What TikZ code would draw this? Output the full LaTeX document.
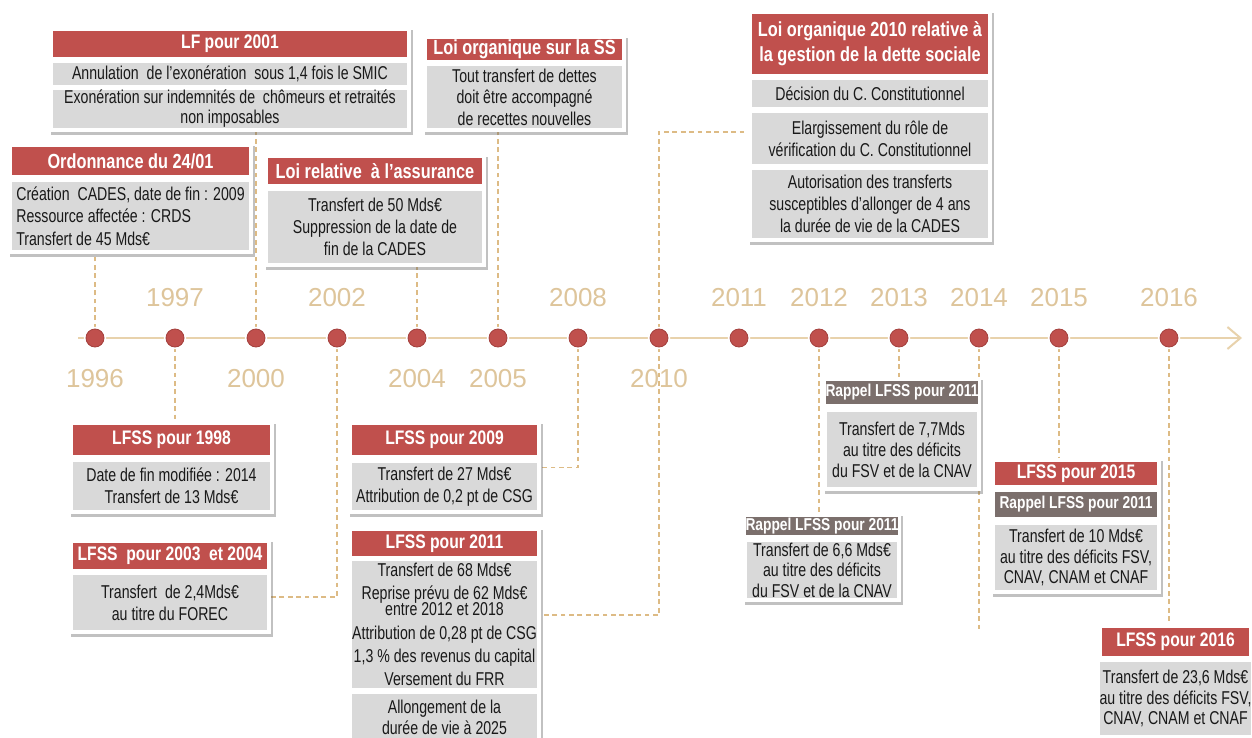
\documentclass[tikz,border=0pt]{standalone}
\usepackage{fontspec}
\setmainfont{Liberation Sans}
\newfontfamily\nar[FakeStretch=0.8]{Liberation Sans}
\newfontfamily\narr[FakeStretch=0.76]{Liberation Sans}
\usetikzlibrary{shadows,arrows.meta}
\definecolor{hred}{HTML}{C0504D}
\definecolor{rgray}{HTML}{7B6F6C}
\definecolor{rowgray}{HTML}{D9D9D9}
\definecolor{axisc}{HTML}{E8D2AC}
\definecolor{dashc}{HTML}{DDBB85}
\definecolor{yearc}{HTML}{DEC59B}
\definecolor{dotedge}{HTML}{A33F3C}
\pgfdeclarelayer{bgl}
\pgfsetlayers{bgl,main}
\begin{document}
\begin{tikzpicture}[x=0.5pt,y=-0.5pt,
 bx/.style args={#1/#2/#3/#4}{rectangle, inner sep=0pt, at={({(#1+#3)/2},{(#2+#4)/2})}, minimum width={(#3-#1)*0.5pt}, minimum height={(#4-#2)*0.5pt}},
 card/.style={fill=white, drop shadow={shadow xshift=1.2pt, shadow yshift=-1.6pt, opacity=0.4, fill=black!60}},
 hdr/.style={fill=hred, text=white, font=\nar\bfseries\fontsize{9.8}{12}\selectfont, align=center},
 rhdr/.style={fill=rgray, text=white, font=\nar\bfseries\fontsize{8.6}{10}\selectfont},
 row/.style={fill=rowgray, text=black!90, font=\narr\fontsize{9.3}{11}\selectfont, align=center},
 dot/.style={circle, fill=hred, draw=dotedge, line width=0.4pt, minimum size=9pt, inner sep=0pt, preaction={draw=white, line width=2.2pt}},
 yr/.style={text=yearc, font=\fontsize{13}{13}\selectfont, inner sep=0pt},
 conn/.style={draw=dashc, line width=0.8pt, dash pattern=on 2.4pt off 1.8pt},
]
\useasboundingbox (0,0) rectangle (1252,738);
\begin{pgfonlayer}{bgl}
\fill[white] (0,0) rectangle (1252,738);
\end{pgfonlayer}

% ---------- top boxes ----------
\node[card, bx=49/27/411/132] (c1) {};
\node[hdr, bx=53/31/407/57] (h1) {LF pour 2001};
\node[row, bx=53/63/407/85] (g1a) {Annulation\ \ de l’exonération\ \ sous 1,4 fois le SMIC};
\node[row, bx=53/90/407/128, font=\narr\fontsize{9.3}{10}\selectfont] (g1b) {Exonération sur indemnités de\ \ chômeurs et retraités\\non imposables};

\node[card, bx=8/143/253/254] (c2) {};
\node[hdr, bx=12/147/249/175, font=\nar\bfseries\fontsize{10.2}{12}\selectfont] (h2) {Ordonnance du 24/01};
\node[row, bx=12/182/249/250, align=left, font=\narr\fontsize{9.3}{11.2}\selectfont] (g2) {Création\ \ CADES, date de fin : 2009\\Ressource affectée : CRDS\\Transfert de 45 Mds€};

\node[card, bx=264/154/486/267] (c3) {};
\node[hdr, bx=268/158/482/184, font=\nar\bfseries\fontsize{10.2}{12}\selectfont] (h3) {Loi relative\ \ à l’assurance};
\node[row, bx=268/191/482/263] (g3) {Transfert de 50 Mds€\\Suppression de la date de\\fin de la CADES};

\node[card, bx=423/35/626/132] (c4) {};
\node[hdr, bx=427/39/622/60, font=\nar\bfseries\fontsize{10.2}{12}\selectfont] (h4) {Loi organique sur la SS};
\node[row, bx=427/66/622/128, font=\narr\fontsize{9.3}{10.8}\selectfont] (g4) {Tout transfert de dettes\\doit être accompagné\\de recettes nouvelles};

\node[card, bx=748/10/992/242] (c5) {};
\node[hdr, bx=752/14/988/74, font=\nar\bfseries\fontsize{10.2}{12.5}\selectfont] (h5) {Loi organique 2010 relative à\\la gestion de la dette sociale};
\node[row, bx=752/80/988/107] (g5a) {Décision du C. Constitutionnel};
\node[row, bx=752/113/988/164] (g5b) {Elargissement du rôle de\\vérification du C. Constitutionnel};
\node[row, bx=752/170/988/238] (g5c) {Autorisation des transferts\\susceptibles d’allonger de 4 ans\\la durée de vie de la CADES};

% ---------- bottom boxes ----------
\node[card, bx=69/421/274/514] (c6) {};
\node[hdr, bx=73/425/270/455] (h6) {LFSS pour 1998};
\node[row, bx=73/462/270/510] (g6) {Date de fin modifiée : 2014\\Transfert de 13 Mds€};

\node[card, bx=69/539/271/634] (c7) {};
\node[hdr, bx=73/543/267/569] (h7) {LFSS\ \ pour 2003\ \ et 2004};
\node[row, bx=73/575/267/630] (g7) {Transfert\ \ de 2,4Mds€\\au titre du FOREC};

\node[card, bx=348/421/541/514] (c8) {};
\node[hdr, bx=352/425/537/455] (h8) {LFSS pour 2009};
\node[row, bx=352/463/537/510] (g8) {Transfert de 27 Mds€\\Attribution de 0,2 pt de CSG};

\node[card, bx=348/527/541/745] (c9) {};
\node[hdr, bx=352/531/537/556] (h9) {LFSS pour 2011};
\node[row, bx=352/561/537/688, font=\narr\fontsize{9.3}{11.6}\selectfont] (g9a) {Transfert de 68 Mds€\\Reprise prévu de 62 Mds€\\[-3.6pt]entre 2012 et 2018\\Attribution de 0,28 pt de CSG\\1,3 \% des revenus du capital\\Versement du FRR};
\node[row, bx=352/694/537/741, font=\narr\fontsize{9.3}{10.6}\selectfont] (g9b) {Allongement de la\\durée de vie à 2025};

\node[card, bx=823/377/981/491] (c10) {};
\node[rhdr, bx=827/381/977/404] (h10) {Rappel LFSS pour 2011};
\node[row, bx=827/412/977/487, font=\narr\fontsize{9.3}{10.5}\selectfont] (g10) {Transfert de 7,7Mds\\au titre des déficits\\du FSV et de la CNAV};

\node[card, bx=743/513/901/602] (c11) {};
\node[rhdr, bx=747/517/897/535] (h11) {Rappel LFSS pour 2011};
\node[row, bx=747/542/897/598, font=\narr\fontsize{9.3}{10.3}\selectfont] (g11) {Transfert de 6,6 Mds€\\au titre des déficits\\du FSV et de la CNAV};

\node[card, bx=991/458/1161/594] (c12) {};
\node[hdr, bx=995/462/1157/485] (h12) {LFSS pour 2015};
\node[rhdr, bx=995/492/1157/517] (r12) {Rappel LFSS pour 2011};
\node[row, bx=995/525/1157/590, font=\narr\fontsize{9.3}{10.2}\selectfont] (g12) {Transfert de 10 Mds€\\au titre des déficits FSV,\\CNAV, CNAM et CNAF};

\node[card, bx=1098/624/1253/745] (c13) {};
\node[hdr, bx=1102/628/1249/656] (h13) {LFSS pour 2016};
\node[row, bx=1102/662/1249/735, font=\narr\fontsize{9.3}{10.3}\selectfont] (g13) {Transfert de 23,6 Mds€\\au titre des déficits FSV,\\CNAV, CNAM et CNAF};

% ---------- timeline ----------
\coordinate (axS) at (78,338);
\coordinate (axE) at (1242,338);
\coordinate (e2014) at (979,632);
\foreach \yy/\xx in {1996/95,1997/175,2000/256,2002/337,2004/417,2005/498,2008/578,2010/659,2011/739,2012/819,2013/899,2014/979,2015/1059,2016/1169}
  \node[dot] (d\yy) at (\xx,338) {};
\foreach \yy/\xx in {1997/175,2002/337,2008/578,2011/739,2012/819,2013/899,2014/979,2015/1059,2016/1169}
  \node[yr] (y\yy) at (\xx,298) {\yy};
\foreach \yy/\xx in {1996/95,2000/256,2004/417,2005/498,2010/659}
  \node[yr] (y\yy) at (\xx,379) {\yy};

\begin{pgfonlayer}{bgl}
\draw[axisc, line width=1pt, -{Straight Barb[length=6.5pt,width=11pt]}] (axS) -- (axE);
\draw[conn] (d1996) -- (d1996 |- c2.south);
\draw[conn] (d1997) -- (d1997 |- c6.north);
\draw[conn] (d2000) -- (d2000 |- c1.south);
\draw[conn] (d2002) |- ([yshift=-5.25pt]c7.east);
\draw[conn] (d2004) -- (d2004 |- c3.south);
\draw[conn] (d2005) -- (d2005 |- c4.south);
\draw[conn] (d2008) |- (c8.east);
\draw[conn] (d2010) |- ([yshift=-3pt]c5.west);
\draw[conn] (d2010) |- ([yshift=10.5pt]c9.east);
\draw[conn] (d2012) -- (d2012 |- c11.north);
\draw[conn] (d2013) -- (d2013 |- c10.north);
\draw[conn] (d2014) -- (e2014);
\draw[conn] (d2015) -- (d2015 |- c12.north);
\draw[conn] (d2016) -- (d2016 |- c13.north);
\end{pgfonlayer}
\end{tikzpicture}
\end{document}
